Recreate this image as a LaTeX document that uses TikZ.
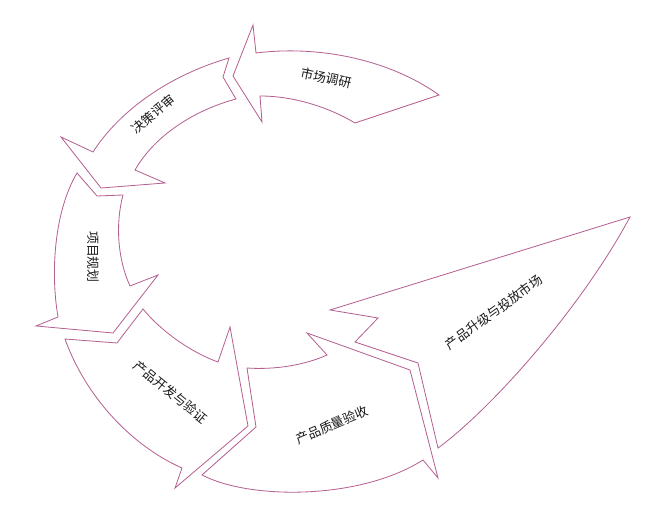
\documentclass[tikz,border=0pt]{standalone}
\usepackage{fontspec}
\newfontfamily\cjk{Noto Sans CJK SC}
\definecolor{arrowline}{RGB}{180,96,145}
\begin{document}
\begin{tikzpicture}[x=0.03cm,y=-0.03cm,
    blk/.style={draw=arrowline, line width=0.7pt, line join=miter},
    lbl/.style={font=\cjk\fontsize{11}{12}\selectfont, text=black!90}]
  \useasboundingbox (0,0) rectangle (661,517);

  \draw[blk] (253,25) -- (233,76) -- (262,122) -- (260,96)
    .. controls (295,96) and (330,108) .. (355,123) -- (439,95)
    .. controls (390,60) and (320,45) .. (256,53) -- cycle;
  \node[lbl, rotate=-12] (scdy) at (326,78) {市场调研};

  \draw[blk] (229,58) .. controls (170,75) and (120,110) .. (93,152)
    -- (61,137) -- (101,188) -- (165,183) -- (135,170)
    .. controls (155,135) and (195,110) .. (236,99) -- (223,77) -- cycle;
  \node[lbl, rotate=40] (jcps) at (153,114) {决策评审};

  \draw[blk] (77,173) -- (97,196) -- (123,195)
    .. controls (115,225) and (118,260) .. (130,286)
    -- (158,275) -- (113,333) -- (36,326) -- (58,317)
    .. controls (50,270) and (55,210) .. (77,173) -- cycle;
  \node[lbl, rotate=-90] (xmgh) at (93,257) {项目规划};

  \draw[blk] (65,339) -- (117,343) -- (143,309)
    .. controls (160,330) and (190,352) .. (218,362)
    -- (230,327) -- (248,426) -- (175,488) -- (182,468)
    .. controls (130,445) and (85,395) .. (65,339) -- cycle;
  \node[lbl, rotate=-39] (cpkf) at (171,392) {产品开发与验证};

  \draw[blk] (247,368) -- (256,427) -- (202,475)
    .. controls (250,500) and (360,500) .. (423,460)
    -- (438,478) -- (410,370) -- (307,333) -- (327,355)
    .. controls (305,365) and (275,370) .. (247,368) -- cycle;
  \node[lbl, rotate=23] (zlys) at (332,425) {产品质量验收};

  \draw[blk] (330,310) -- (378,318) -- (355,342) -- (418,363) -- (438,448)
    .. controls (490,410) and (580,310) .. (630,217) -- cycle;
  \node[lbl, rotate=36] (sjtf) at (494,312) {产品升级与投放市场};
\end{tikzpicture}
\end{document}
